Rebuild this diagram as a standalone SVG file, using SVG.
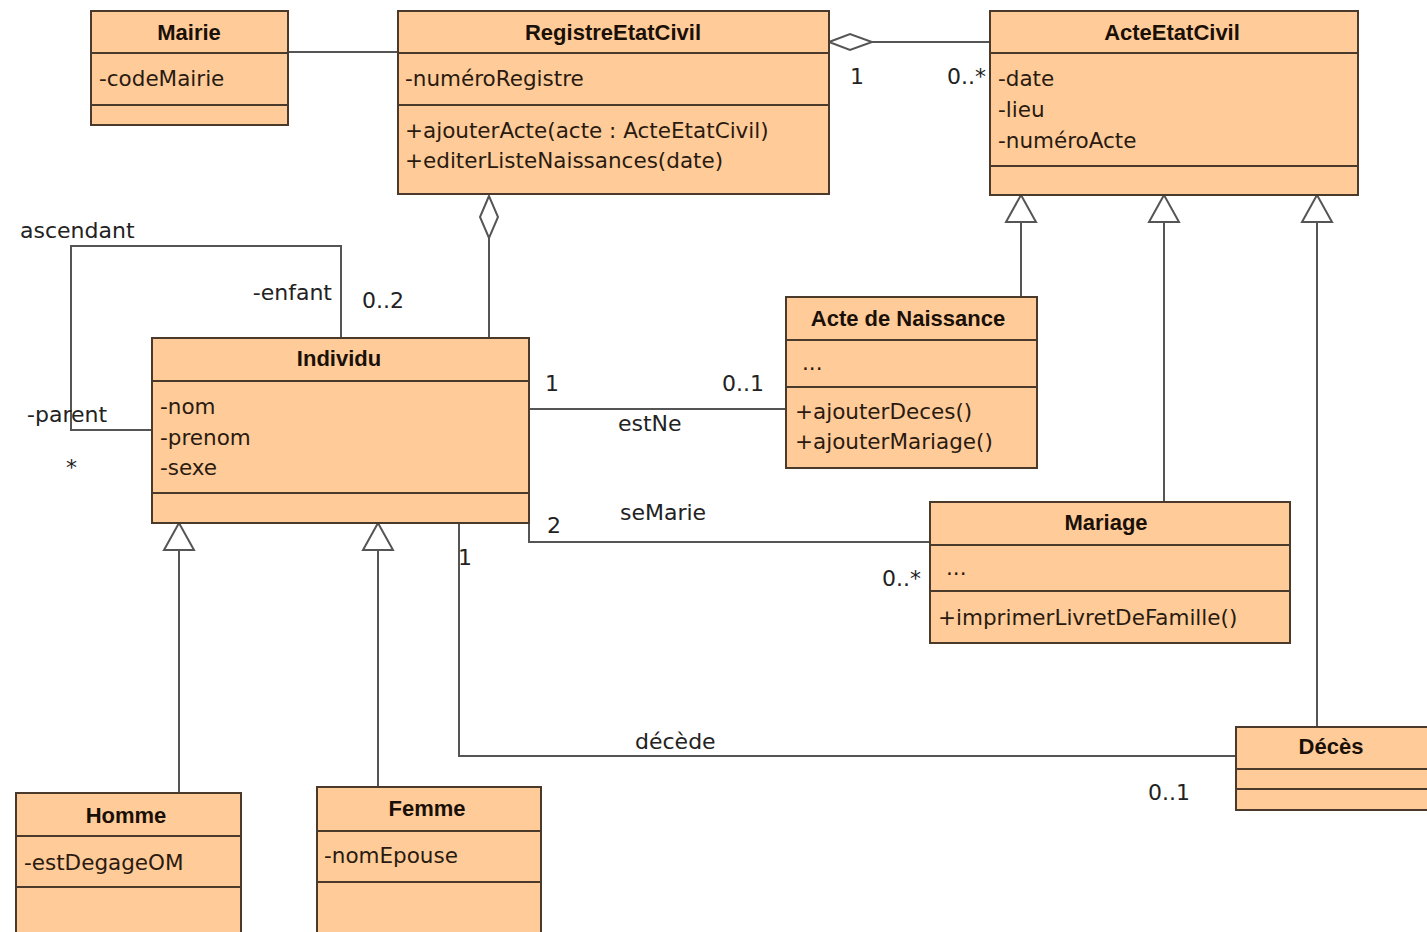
<svg xmlns="http://www.w3.org/2000/svg" width="1427" height="932" viewBox="0 0 1427 932">
<style>
.box{fill:#ffcc99;stroke:#4a3a2c;stroke-width:2}
.sep{stroke:#4a3a2c;stroke-width:2}
.t{font-family:"Liberation Sans",Arial,sans-serif;font-weight:bold;font-size:22px;fill:#1a1008;text-anchor:middle}
.a{font-family:"DejaVu Sans",sans-serif;font-size:21.5px;fill:#2a1a10}
.l{font-family:"DejaVu Sans",sans-serif;font-size:22px;fill:#222}
.c{fill:none;stroke:#555;stroke-width:2}
.tri{fill:#fff;stroke:#555;stroke-width:2}
</style>
<rect width="1427" height="932" fill="#fff"/>
<g id="connectors">
<path class="c" d="M288 52 H398"/>
<path class="c" d="M872 42 H990"/>
<polygon class="tri" points="829,42 850,34 872,42 850,50"/>
<path class="c" d="M489 238 V338"/>
<polygon class="tri" points="489,196 480,217 489,238 498,217"/>
<path class="c" d="M152 430 H71 V246 H341 V338"/>
<path class="c" d="M529 409 H786"/>
<path class="c" d="M529 523 V542 H930"/>
<path class="c" d="M459 523 V756 H1236"/>
<path class="c" d="M1021 222 V297"/>
<polygon class="tri" points="1021,195 1006,222 1036,222"/>
<path class="c" d="M1164 222 V502"/>
<polygon class="tri" points="1164,195 1149,222 1179,222"/>
<path class="c" d="M1317 222 V727"/>
<polygon class="tri" points="1317,195 1302,222 1332,222"/>
<path class="c" d="M179 550 V793"/>
<polygon class="tri" points="179,523 164,550 194,550"/>
<path class="c" d="M378 550 V787"/>
<polygon class="tri" points="378,523 363,550 393,550"/>
<text class="l" x="850" y="84">1</text>
<text class="l" x="947" y="84">0..*</text>
<text class="l" x="20" y="238">ascendant</text>
<text class="l" x="332" y="300" text-anchor="end">-enfant</text>
<text class="l" x="362" y="308">0..2</text>
<text class="l" x="27" y="422">-parent</text>
<text class="l" x="66" y="475">*</text>
<text class="l" x="545" y="391">1</text>
<text class="l" x="722" y="391">0..1</text>
<text class="l" x="618" y="431">estNe</text>
<text class="l" x="547" y="533">2</text>
<text class="l" x="620" y="520">seMarie</text>
<text class="l" x="882" y="586">0..*</text>
<text class="l" x="458" y="565">1</text>
<text class="l" x="635" y="749">décède</text>
<text class="l" x="1148" y="800">0..1</text>
</g>
<g id="Mairie">
<rect class="box" x="91" y="11" width="197" height="114"/>
<path class="sep" d="M91 53 H288 M91 105 H288"/>
<text class="t" x="189" y="40">Mairie</text>
<text class="a" x="99" y="86">-codeMairie</text>
</g>
<g id="RegistreEtatCivil">
<rect class="box" x="398" y="11" width="431" height="183"/>
<path class="sep" d="M398 53 H829 M398 105 H829"/>
<text class="t" x="613" y="40">RegistreEtatCivil</text>
<text class="a" x="405" y="86">-numéroRegistre</text>
<text class="a" x="405" y="138">+ajouterActe(acte : ActeEtatCivil)</text>
<text class="a" x="405" y="168">+editerListeNaissances(date)</text>
</g>
<g id="ActeEtatCivil">
<rect class="box" x="990" y="11" width="368" height="184"/>
<path class="sep" d="M990 53 H1358 M990 166 H1358"/>
<text class="t" x="1172" y="40">ActeEtatCivil</text>
<text class="a" x="998" y="86">-date</text>
<text class="a" x="998" y="117">-lieu</text>
<text class="a" x="998" y="148">-numéroActe</text>
</g>
<g id="Individu">
<rect class="box" x="152" y="338" width="377" height="185"/>
<path class="sep" d="M152 381 H529 M152 493 H529"/>
<text class="t" x="339" y="366">Individu</text>
<text class="a" x="160" y="414">-nom</text>
<text class="a" x="160" y="445">-prenom</text>
<text class="a" x="160" y="475">-sexe</text>
</g>
<g id="ActeDeNaissance">
<rect class="box" x="786" y="297" width="251" height="171"/>
<path class="sep" d="M786 340 H1037 M786 387 H1037"/>
<text class="t" x="908" y="326">Acte de Naissance</text>
<text class="a" x="802" y="370" font-size="13">...</text>
<text class="a" x="795" y="419">+ajouterDeces()</text>
<text class="a" x="795" y="449">+ajouterMariage()</text>
</g>
<g id="Mariage">
<rect class="box" x="930" y="502" width="360" height="141"/>
<path class="sep" d="M930 545 H1290 M930 591 H1290"/>
<text class="t" x="1106" y="530">Mariage</text>
<text class="a" x="946" y="575" font-size="13">...</text>
<text class="a" x="938" y="625">+imprimerLivretDeFamille()</text>
</g>
<g id="Deces">
<rect class="box" x="1236" y="727" width="200" height="83"/>
<path class="sep" d="M1236 769 H1436 M1236 789 H1436"/>
<text class="t" x="1331" y="754">Décès</text>
</g>
<g id="Homme">
<rect class="box" x="16" y="793" width="225" height="150"/>
<path class="sep" d="M16 836 H241 M16 887 H241"/>
<text class="t" x="126" y="823">Homme</text>
<text class="a" x="24" y="870">-estDegageOM</text>
</g>
<g id="Femme">
<rect class="box" x="317" y="787" width="224" height="150"/>
<path class="sep" d="M317 831 H541 M317 882 H541"/>
<text class="t" x="427" y="816">Femme</text>
<text class="a" x="324" y="863">-nomEpouse</text>
</g>
</svg>
